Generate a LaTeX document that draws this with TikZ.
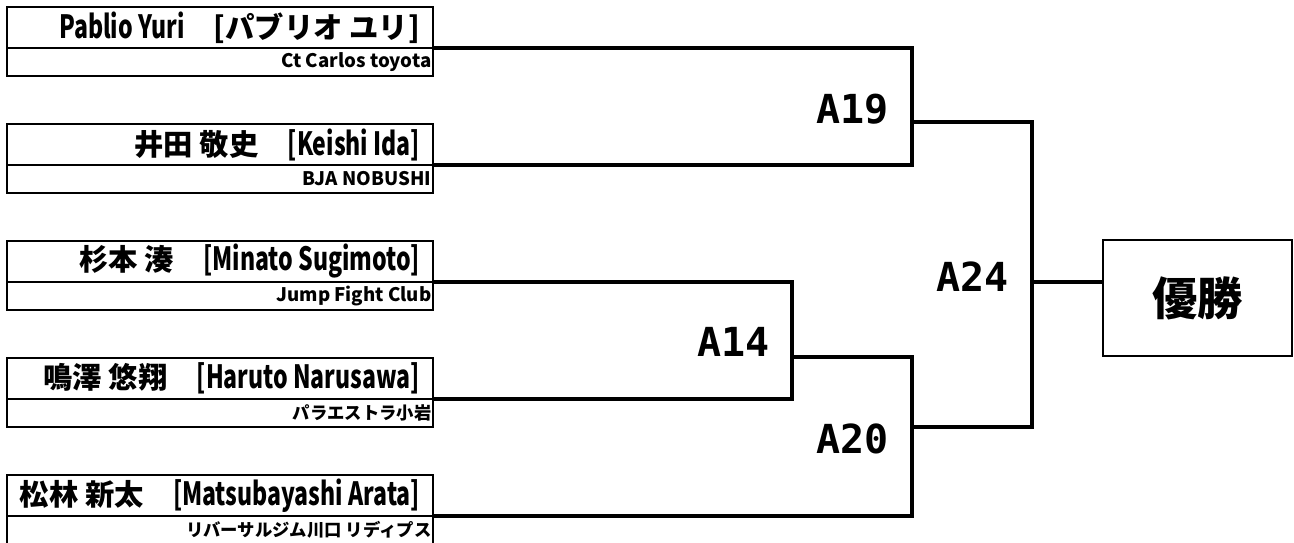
\documentclass[tikz,border=0pt]{standalone}
\usepackage{fontspec}
\setmainfont{Noto Sans CJK JP}
\newfontfamily\jpfont{Noto Sans CJK JP}
\newfontfamily\seedfont{DejaVu Sans Mono}
\usetikzlibrary{positioning}

% latin parts of the names are set narrower than the CJK font gives
\newcommand{\lat}[1]{\scalebox{0.72}[1]{\fontsize{24}{24}\selectfont #1}}
% flush right inside a fixed width, spilling to the left if too long
\newcommand{\flushin}[2]{\hbox to #1{\hss #2}}

\tikzset{
  wire/.style={line width=3pt},
  namecell/.style={draw, line width=2pt, outer sep=0pt, anchor=north west,
    minimum width=319.5pt, minimum height=30.75pt, inner xsep=9.75pt, inner ysep=0pt,
    font=\jpfont\bfseries\fontsize{22}{22}\selectfont},
  clubcell/.style={draw, line width=2pt, outer sep=0pt,
    minimum width=319.5pt, minimum height=21pt, inner xsep=1.25pt, inner ysep=0pt,
    font=\jpfont\bfseries\fontsize{13}{13}\selectfont},
  seed/.style={font=\seedfont\bfseries\fontsize{30}{30}\selectfont,
    anchor=base east, inner sep=0pt},
  winner/.style={draw, line width=2pt, outer sep=0pt,
    minimum width=141.75pt, minimum height=87pt,
    font=\jpfont\bfseries\fontsize{34}{34}\selectfont},
}

\begin{document}
\begin{tikzpicture}[x=0.75pt,y=-0.75pt]
	\useasboundingbox (0,0) rectangle (1294,542);

	% players
	\node[namecell] (p1) at (7,7) {\flushin{300pt}{\lat{Pablio Yuri}　[パブリオ ユリ]}};
	\node[clubcell,below=0pt of p1] (c1) {\flushin{317pt}{\fontsize{14}{14}\selectfont Ct Carlos toyota}};
	\node[namecell] (p2) at (7,124) {\flushin{300pt}{井田 敬史　\lat{[Keishi Ida]}}};
	\node[clubcell,below=0pt of p2] (c2) {\flushin{317pt}{\fontsize{14}{14}\selectfont BJA NOBUSHI}};
	\node[namecell] (p3) at (7,241) {\flushin{300pt}{杉本 湊　\lat{[Minato Sugimoto]}}};
	\node[clubcell,below=0pt of p3] (c3) {\flushin{317pt}{\fontsize{14}{14}\selectfont Jump Fight Club}};
	\node[namecell] (p4) at (7,358) {\flushin{300pt}{鳴澤 悠翔　\lat{[Haruto Narusawa]}}};
	\node[clubcell,below=0pt of p4] (c4) {\flushin{317pt}{パラエストラ小岩}};
	\node[namecell] (p5) at (7,475) {\flushin{300pt}{松林 新太　\lat{[Matsubayashi Arata]}}};
	\node[clubcell,below=0pt of p5] (c5) {\flushin{317pt}{リバーサルジム川口 リディプス}};

	\node[winner] (champ) at (1197.5,298) {優勝};

	% bracket joints
	\coordinate (j19) at (912,122);
	\coordinate (j14) at (792,357);
	\coordinate (j20) at (912,427);
	\coordinate (j24) at (1032,282);

	\draw[wire] (p1.south east) -| (j19) |- (p2.south east);
	\draw[wire] (p3.south east) -| (j14) |- (p4.south east);
	\draw[wire] (j14) -| (j20) |- (p5.south east);
	\draw[wire] (j19) -| (j24) |- (j20);
	\draw[wire] (j24) -- (j24 -| champ.west);

	% bout numbers
	\node[seed] (a19) at (889,123) {A19};
	\node[seed] (a14) at (770,356) {A14};
	\node[seed] (a20) at (889,453) {A20};
	\node[seed] (a24) at (1009,291) {A24};
\end{tikzpicture}
\end{document}
